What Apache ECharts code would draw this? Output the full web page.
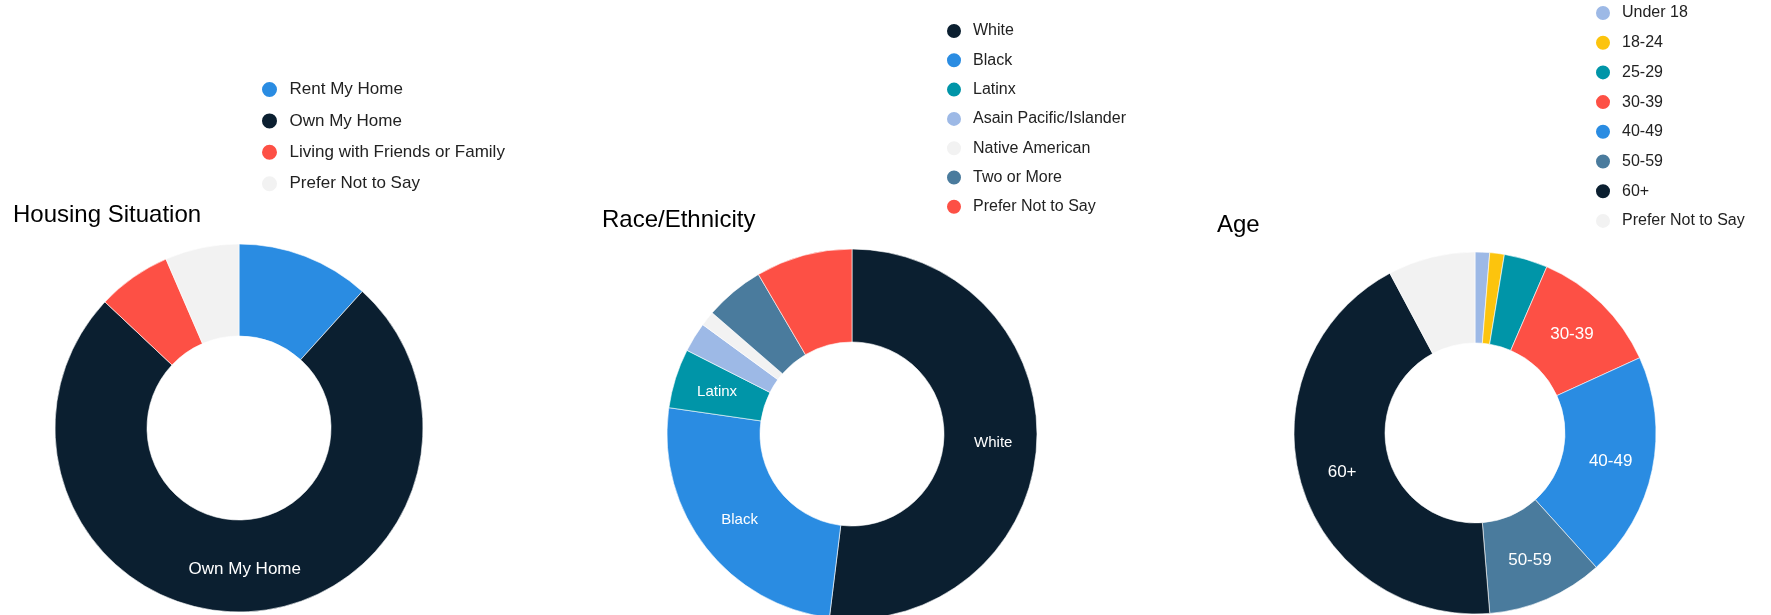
<!DOCTYPE html>
<html>
<head>
<meta charset="utf-8">
<title>Survey demographics</title>
<script src="https://cdn.jsdelivr.net/npm/echarts@6/dist/echarts.min.js"></script>
<style>
  html, body { margin: 0; padding: 0; background: #fff; }
  .panel { position: absolute; top: 0; height: 615px; }
</style>
</head>
<body>
<div id="housing" class="panel" style="left:0;width:590px;"></div>
<div id="race" class="panel" style="left:590px;width:610px;"></div>
<div id="age" class="panel" style="left:1200px;width:571px;"></div>
<script>
'use strict';

/* data (respondent counts) */
var housingNames = ['Rent My Home', 'Own My Home', 'Living with Friends or Family', 'Prefer Not to Say'];
var housingValues = [18, 116, 10, 10];
var housingColors = ['#2a8ce2', '#0b1f30', '#fd5045', '#f2f2f2'];
var housingLabels = ['Own My Home'];

var raceNames = ['White', 'Black', 'Latinx', 'Asain Pacific/Islander', 'Native American', 'Two or More', 'Prefer Not to Say'];
var raceValues = [80, 39, 8, 4, 2, 8, 13];
var raceColors = ['#0b1f30', '#2a8ce2', '#0095a8', '#9db9e6', '#f2f2f2', '#4a7b9d', '#fd5045'];
var raceLabels = ['White', 'Black', 'Latinx'];

var ageNames = ['Under 18', '18-24', '25-29', '30-39', '40-49', '50-59', '60+', 'Prefer Not to Say'];
var ageValues = [2, 2, 6, 18, 31, 16, 67, 12];
var ageColors = ['#9db9e6', '#fcc40d', '#0095a8', '#fd5045', '#2a8ce2', '#4a7b9d', '#0b1f30', '#f2f2f2'];
var ageLabels = ['30-39', '40-49', '50-59', '60+'];

var FONT = '"Liberation Sans", Arial, sans-serif';

function donut(id, cfg) {
  var chart = echarts.init(document.getElementById(id));
  var data = cfg.names.map(function (n, i) {
    return { name: n, value: cfg.values[i] };
  });
  chart.setOption({
    animation: false,
    textStyle: { fontFamily: FONT },
    color: cfg.colors,
    title: {
      text: cfg.title,
      left: cfg.titlePos[0],
      top: cfg.titlePos[1],
      padding: 0,
      textStyle: { fontFamily: FONT, fontSize: 24, fontWeight: 'normal', color: '#000' }
    },
    legend: {
      orient: 'vertical',
      left: cfg.legendPos[0],
      top: cfg.legendPos[1],
      padding: 0,
      icon: 'circle',
      itemWidth: cfg.legendIcon[0],
      itemHeight: cfg.legendIcon[1],
      itemGap: cfg.legendGap,
      selectedMode: false,
      data: cfg.names,
      textStyle: { fontFamily: FONT, fontSize: cfg.legendFont, color: '#222' }
    },
    series: [{
      type: 'pie',
      center: cfg.center,
      radius: cfg.radius,
      startAngle: 90,
      clockwise: true,
      avoidLabelOverlap: false,
      itemStyle: { borderColor: '#fff', borderWidth: 0.6 },
      emphasis: { disabled: true },
      label: {
        show: true,
        position: 'inside',
        color: '#fff',
        fontFamily: FONT,
        fontSize: cfg.labelFont,
        formatter: function (p) {
          return cfg.labels.indexOf(p.name) >= 0 ? p.name : '';
        }
      },
      labelLine: { show: false },
      data: data
    }]
  });
  return chart;
}

donut('housing', {
  title: 'Housing Situation',
  names: housingNames, values: housingValues, colors: housingColors, labels: housingLabels,
  titlePos: [13, 203],
  legendPos: [260, 80], legendIcon: [30, 17], legendGap: 12.4, legendFont: 17,
  center: [239, 428], radius: [92, 184], labelFont: 17
});

donut('race', {
  title: 'Race/Ethnicity',
  names: raceNames, values: raceValues, colors: raceColors, labels: raceLabels,
  titlePos: [12, 208],
  legendPos: [355, 22], legendIcon: [28, 16], legendGap: 11.3, legendFont: 16,
  center: [262, 434], radius: [92, 185], labelFont: 15
});

donut('age', {
  title: 'Age',
  names: ageNames, values: ageValues, colors: ageColors, labels: ageLabels,
  titlePos: [17, 213],
  legendPos: [394, 4], legendIcon: [28, 16], legendGap: 11.7, legendFont: 16,
  center: [275, 433], radius: [90, 181], labelFont: 17
});
</script>
</body>
</html>
